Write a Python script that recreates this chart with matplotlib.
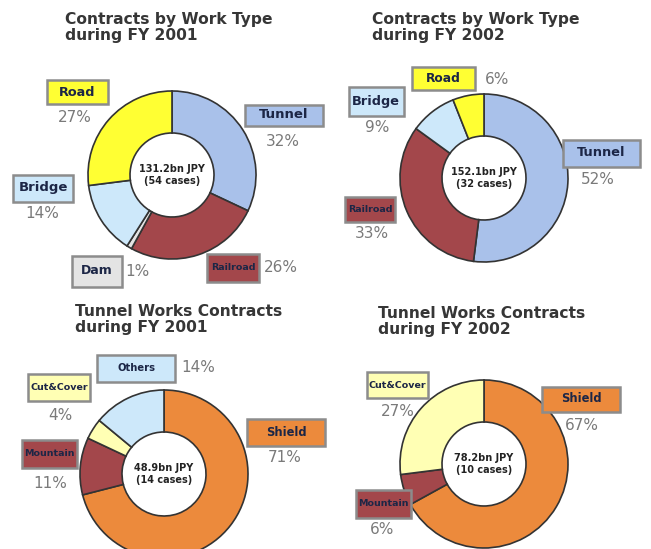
import matplotlib.pyplot as plt
from matplotlib.patches import Rectangle

# --- data ---
titles = ["Contracts by Work Type\nduring FY 2001",
          "Contracts by Work Type\nduring FY 2002",
          "Tunnel Works Contracts\nduring FY 2001",
          "Tunnel Works Contracts\nduring FY 2002"]

work_2001 = ["Tunnel", "Railroad", "Dam", "Bridge", "Road"]
share_2001 = [32, 26, 1, 14, 27]
work_2002 = ["Tunnel", "Railroad", "Bridge", "Road"]
share_2002 = [52, 33, 9, 6]
tunnel_2001 = ["Shield", "Mountain", "Cut&Cover", "Others"]
tshare_2001 = [71, 11, 4, 14]
tunnel_2002 = ["Shield", "Mountain", "Cut&Cover"]
tshare_2002 = [67, 6, 27]

totals = ["131.2bn JPY", "152.1bn JPY", "48.9bn JPY", "78.2bn JPY"]
cases = [54, 32, 14, 10]

colors = {
    "Tunnel": "#a9c1ea", "Railroad": "#a3474b", "Dam": "#e4e4e4",
    "Bridge": "#cde8fa", "Road": "#ffff33",
    "Shield": "#ec8a3c", "Mountain": "#a3474b", "Cut&Cover": "#ffffb4",
    "Others": "#cde8fa",
}

W, H = 651, 549
def Y(y):
    return H - y

# layout in image pixels: ring centre, title corner, and per-label
# (box centre x, y, box w, h, font size, pct x, pct y)
charts = [
    dict(names=work_2001, vals=share_2001, c=(172, 175), t=(65, 12), lab={
        "Road": (77, 92, 61, 24, 9.3, 75, 117),
        "Tunnel": (284, 115, 78, 21, 9.5, 283, 142),
        "Bridge": (43, 188, 60, 27, 9.5, 42, 213),
        "Dam": (97, 271, 50, 31, 9.0, 137, 272),
        "Railroad": (233, 268, 52, 28, 6.8, 281, 268),
    }),
    dict(names=work_2002, vals=share_2002, c=(484, 178), t=(372, 12), lab={
        "Road": (443, 78, 63, 23, 8.8, 497, 79),
        "Bridge": (376, 101, 55, 29, 9.3, 377, 128),
        "Tunnel": (601, 153, 77, 27, 9.3, 598, 180),
        "Railroad": (370, 209, 50, 25, 6.8, 372, 233),
    }),
    dict(names=tunnel_2001, vals=tshare_2001, c=(164, 474), t=(75, 304), lab={
        "Others": (136, 368, 78, 27, 7.2, 198, 368),
        "Cut&Cover": (59, 387, 62, 27, 6.8, 60, 415),
        "Shield": (286, 432, 78, 27, 8.3, 285, 458),
        "Mountain": (49, 454, 55, 28, 6.8, 50, 483),
    }),
    dict(names=tunnel_2002, vals=tshare_2002, c=(484, 464), t=(378, 306), lab={
        "Cut&Cover": (397, 385, 61, 26, 6.8, 398, 412),
        "Shield": (581, 399, 78, 25, 8.3, 582, 425),
        "Mountain": (383, 504, 55, 28, 6.8, 382, 530),
    }),
]

R_OUT, R_IN = 84, 42

fig = plt.figure(figsize=(W / 100, H / 100), dpi=100)
ax = fig.add_axes([0, 0, 1, 1])

for i, ch in enumerate(charts):
    cx, cy = ch["c"]
    ax.pie(ch["vals"], colors=[colors[n] for n in ch["names"]],
           startangle=90, counterclock=False, center=(cx, Y(cy)),
           radius=R_OUT,
           wedgeprops=dict(width=R_OUT - R_IN, edgecolor="#333333", linewidth=1.2))
    ax.text(cx, Y(cy), f"{totals[i]}\n({cases[i]} cases)", ha="center",
            va="center", fontsize=7.0, fontweight="bold", color="#222222",
            linespacing=1.3)
    tx, ty = ch["t"]
    ax.text(tx, Y(ty), titles[i], ha="left", va="top", fontsize=11.2,
            fontweight="bold", color="#363636", linespacing=1.1)

    for name, v in zip(ch["names"], ch["vals"]):
        bx, by, bw, bh, fs, px, py = ch["lab"][name]
        ax.add_patch(Rectangle((bx - bw / 2, Y(by) - bh / 2), bw, bh,
                               facecolor=colors[name], edgecolor="#8c8c8c",
                               linewidth=1.8, zorder=3))
        ax.text(bx, Y(by), name, ha="center", va="center", fontsize=fs,
                fontweight="bold", color="#1c2646", zorder=4)
        ax.text(px, Y(py), f"{v}%", ha="center", va="center", fontsize=11,
                color="#7a7a7a", zorder=4)

ax.set_xlim(0, W)
ax.set_ylim(0, H)
ax.set_aspect("equal")
ax.axis("off")

plt.savefig("out.png", dpi=100)
